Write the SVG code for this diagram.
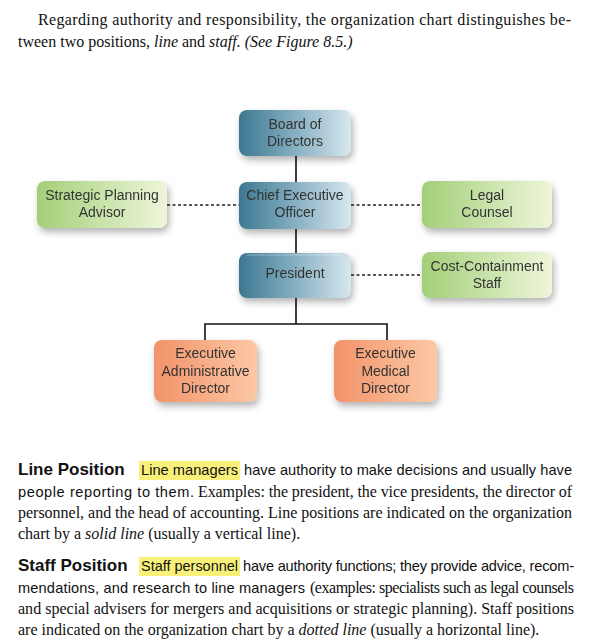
<svg xmlns="http://www.w3.org/2000/svg" width="593" height="640" viewBox="0 0 593 640">
<defs>
<linearGradient id="gBlue" x1="0" y1="0" x2="1" y2="0"><stop offset="0" stop-color="#3c7891"/><stop offset="0.5" stop-color="#86afc1"/><stop offset="1" stop-color="#d6e7ef"/></linearGradient>
<linearGradient id="gGreen" x1="0" y1="0" x2="1" y2="0"><stop offset="0" stop-color="#a3cf78"/><stop offset="1" stop-color="#eef6da"/></linearGradient>
<linearGradient id="gOrange" x1="0" y1="0" x2="1" y2="0"><stop offset="0" stop-color="#f2936a"/><stop offset="1" stop-color="#fcc8a5"/></linearGradient>
<filter id="sh" x="-20%" y="-20%" width="150%" height="170%"><feDropShadow dx="2" dy="4" stdDeviation="3.5" flood-color="#000" flood-opacity="0.3"/></filter>
</defs>
<style>
.serif{font-family:"Liberation Serif","Times New Roman",serif;font-size:16px;fill:#111}
.sans{font-family:"Liberation Sans",Arial,sans-serif;font-size:14.6px;fill:#111}
.head{font-family:"Liberation Sans",Arial,sans-serif;font-size:17px;font-weight:bold;fill:#111}
.it{font-style:italic}
.node text{font-family:"Liberation Sans",Arial,sans-serif;font-size:14px;fill:#333;text-anchor:middle}
.solid{stroke:#111;stroke-width:1.6;fill:none}
.dot{stroke:#222;stroke-width:1.5;fill:none;stroke-dasharray:3 2.5}
.hl{fill:#f9f07a}
</style>

<g id="intro">
<text class="serif" x="38" y="25" textLength="533" lengthAdjust="spacing">Regarding authority and responsibility, the organization chart distinguishes be-</text>
<text class="serif" x="18" y="47">tween two positions, <tspan class="it">line</tspan> and <tspan class="it">staff. (See Figure 8.5.)</tspan></text>
</g>

<g id="connectors">
<path class="solid" d="M296 156V182M296 229V253M296 298V324M205 340V324H387V340"/>
<path class="dot" d="M167 205H239M351 205H422M351 275H422"/>
</g>

<g id="board" class="node" filter="url(#sh)">
<rect x="239" y="110" width="112" height="46" rx="8" fill="url(#gBlue)"/>
<text x="295" y="129">Board of</text><text x="295" y="146">Directors</text>
</g>
<g id="ceo" class="node" filter="url(#sh)">
<rect x="239" y="182" width="112" height="47" rx="8" fill="url(#gBlue)"/>
<text x="295" y="200">Chief Executive</text><text x="295" y="217">Officer</text>
</g>
<g id="president" class="node" filter="url(#sh)">
<rect x="239" y="253" width="112" height="45" rx="8" fill="url(#gBlue)"/>
<line x1="247" y1="255" x2="343" y2="255" stroke="#fff" stroke-opacity="0.35"/>
<text x="295" y="278">President</text>
</g>
<g id="strategic" class="node" filter="url(#sh)">
<rect x="37" y="181" width="130" height="47" rx="8" fill="url(#gGreen)"/>
<text x="102" y="200">Strategic Planning</text><text x="102" y="217">Advisor</text>
</g>
<g id="legal" class="node" filter="url(#sh)">
<rect x="422" y="181" width="130" height="47" rx="8" fill="url(#gGreen)"/>
<text x="487" y="200">Legal</text><text x="487" y="217">Counsel</text>
</g>
<g id="cost" class="node" filter="url(#sh)">
<rect x="422" y="252" width="130" height="46" rx="8" fill="url(#gGreen)"/>
<text x="487" y="271">Cost-Containment</text><text x="487" y="288">Staff</text>
</g>
<g id="execadmin" class="node" filter="url(#sh)">
<rect x="154" y="340" width="103" height="62" rx="8" fill="url(#gOrange)"/>
<text x="205.5" y="358">Executive</text><text x="205.5" y="376">Administrative</text><text x="205.5" y="393">Director</text>
</g>
<g id="execmed" class="node" filter="url(#sh)">
<rect x="334" y="340" width="103" height="62" rx="8" fill="url(#gOrange)"/>
<text x="385.5" y="358">Executive</text><text x="385.5" y="376">Medical</text><text x="385.5" y="393">Director</text>
</g>

<g id="line-position">
<rect class="hl" x="139" y="461" width="101" height="19"/>
<text class="head" x="18" y="475">Line Position</text>
<text class="sans" x="141" y="475" textLength="97" lengthAdjust="spacingAndGlyphs">Line managers</text>
<text class="sans" x="244" y="475" textLength="328" lengthAdjust="spacing">have authority to make decisions and usually have</text>
<text class="sans" x="18" y="497" textLength="176" lengthAdjust="spacing">people reporting to them.</text>
<text class="serif" x="198" y="497" textLength="374" lengthAdjust="spacing">Examples: the president, the vice presidents, the director of</text>
<text class="serif" x="18" y="518" textLength="554" lengthAdjust="spacing">personnel, and the head of accounting. Line positions are indicated on the organization</text>
<text class="serif" x="18" y="539">chart by a <tspan class="it">solid line</tspan> (usually a vertical line).</text>
</g>

<g id="staff-position">
<rect class="hl" x="139" y="557" width="101" height="19"/>
<text class="head" x="18" y="571">Staff Position</text>
<text class="sans" x="141" y="571" textLength="97" lengthAdjust="spacingAndGlyphs">Staff personnel</text>
<text class="sans" x="243" y="571" textLength="331" lengthAdjust="spacing">have authority functions; they provide advice, recom-</text>
<text class="sans" x="18" y="593" textLength="287" lengthAdjust="spacing">mendations, and research to line managers</text>
<text class="serif" x="310" y="593" textLength="264" lengthAdjust="spacing">(examples: specialists such as legal counsels</text>
<text class="serif" x="18" y="614" textLength="556" lengthAdjust="spacing">and special advisers for mergers and acquisitions or strategic planning). Staff positions</text>
<text class="serif" x="18" y="635">are indicated on the organization chart by a <tspan class="it">dotted line</tspan> (usually a horizontal line).</text>
</g>
</svg>
